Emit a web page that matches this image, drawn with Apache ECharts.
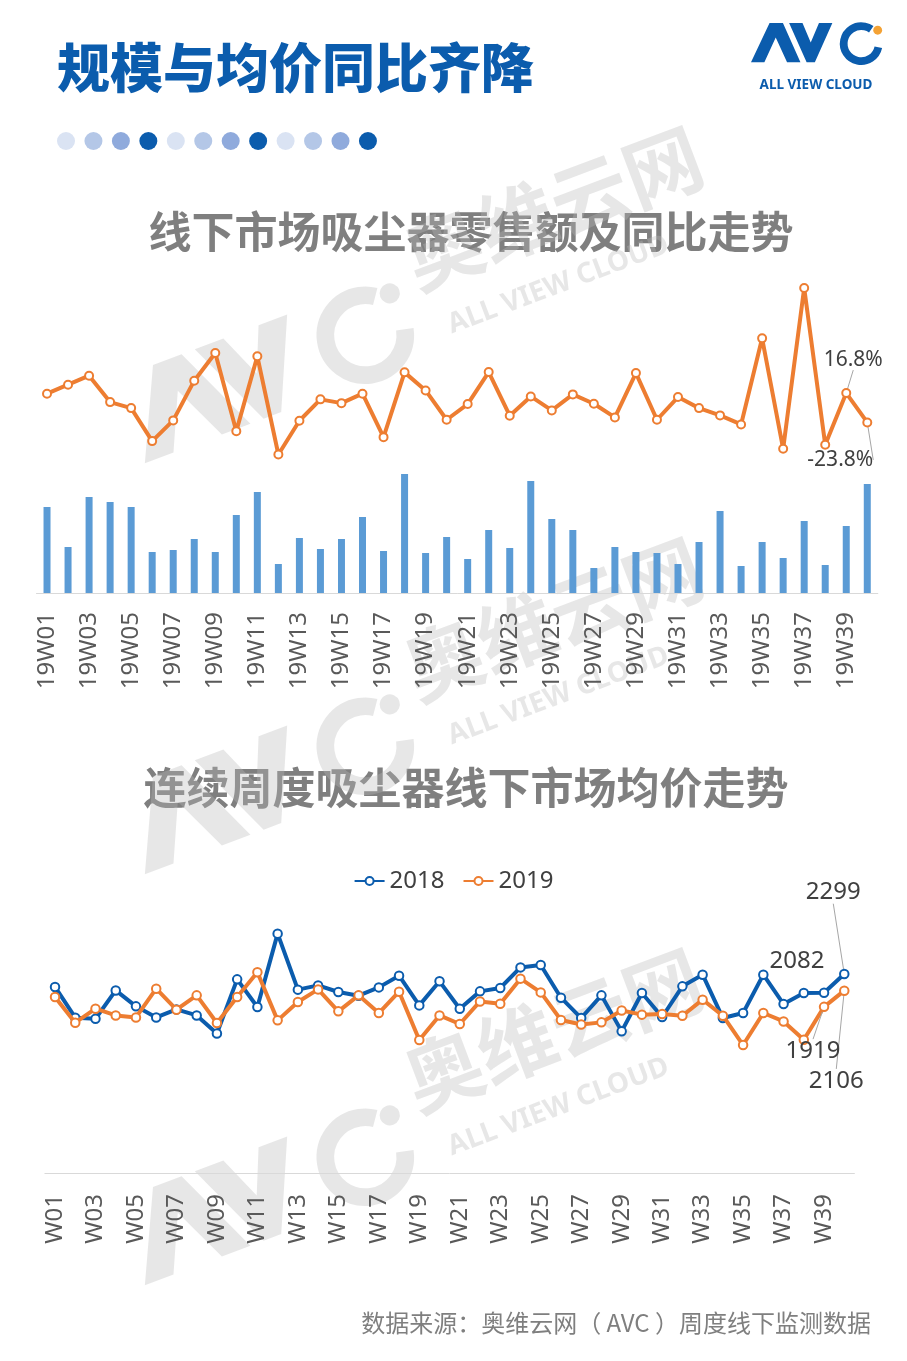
<!DOCTYPE html>
<html>
<head>
<meta charset="utf-8">
<script src="https://cdn.jsdelivr.net/npm/echarts@6/dist/echarts.min.js"></script>
<style>
html,body{margin:0;padding:0;background:#fff;}
#c{width:907px;height:1361px;}
</style>
</head>
<body>
<div id="c"></div>
<script>
// ---------------- DATA ----------------
var weekCodes = ['W01','W02','W03','W04','W05','W06','W07','W08','W09','W10',
  'W11','W12','W13','W14','W15','W16','W17','W18','W19','W20',
  'W21','W22','W23','W24','W25','W26','W27','W28','W29','W30',
  'W31','W32','W33','W34','W35','W36','W37','W38','W39','W40'];
var weeks19 = ['19W01','19W02','19W03','19W04','19W05','19W06','19W07','19W08','19W09','19W10',
  '19W11','19W12','19W13','19W14','19W15','19W16','19W17','19W18','19W19','19W20',
  '19W21','19W22','19W23','19W24','19W25','19W26','19W27','19W28','19W29','19W30',
  '19W31','19W32','19W33','19W34','19W35','19W36','19W37','19W38','19W39','19W40'];
// retail sales (relative scale)
var salesValue = [86,46,96,91,86,41,43,54,41,78,101,29,55,44,54,76,42,119,40,56,
  34,63,45,112,74,63,25,46,41,40,29,51,82,27,51,35,72,28,67,109];
// YoY growth of retail sales (%)
var salesYoY = [16.0,28.4,40.9,4.3,-4.0,-49.7,-21.0,34.0,72.2,-35.9,
  67.7,-68.2,-21.5,8.1,2.9,16.0,-44.2,45.5,20.5,-20.1,
  1.6,45.9,-14.5,12.2,-7.2,15.0,2.1,-16.9,44.5,-20.1,
  11.3,-4.0,-14.1,-26.6,92.6,-60.3,162.3,-54.7,16.8,-23.8];
// weekly average price
var price2018 = [2149,1794,1782,2109,1925,1797,1890,1820,1612,2237,
  1918,2765,2118,2167,2091,2048,2144,2279,1936,2214,
  1898,2098,2137,2375,2403,2025,1790,2052,1636,2079,
  1802,2156,2291,1790,1848,2291,1952,2079,2082,2299];
var price2019 = [2033,1736,1898,1820,1797,2129,1886,2052,1733,2033,
  2318,1763,1975,2121,1867,2052,1848,2094,1536,1820,
  1721,1982,1956,2245,2086,1767,1716,1740,1878,1829,
  1837,1817,2002,1817,1478,1848,1751,1540,1919,2106];
var seriesNames = ['2018','2019'];
var titleMain = '规模与均价同比齐降';
var titleTop = '线下市场吸尘器零售额及同比走势';
var titleBottom = '连续周度吸尘器线下市场均价走势';
var sourceText = '数据来源：奥维云网（ AVC ）周度线下监测数据';

// ---------------- STYLE ----------------
var ORANGE = '#ED7D31', BLUE = '#0B5CAD', BAR = '#5B9BD5';
var TXT = '#404040';
var FONT = '"Noto Sans", "Noto Sans CJK SC", sans-serif';
var CJK = '"Noto Sans CJK SC", sans-serif';

// label placement (style only): index -> [position, dx, dy, showLine]
var yoyLabels = {38:['top',7,-13,true], 39:['bottom',-27,17,true]};
var p18Labels = {38:['top',-27,-9,false], 39:['top',-11,-60,true]};
var p19Labels = {38:['bottom',-11,22,true], 39:['bottom',-8,68,true]};

function withLabels(arr, cfg, fmt){
  return arr.map(function(v,i){
    var c = cfg[i];
    if(!c) return v;
    return {value:v,
      label:{show:true,position:c[0],formatter:fmt,color:TXT,fontSize:fmt?21:24,fontFamily:FONT},
      labelLine:{show:c[3],lineStyle:{color:'#A6A6A6',width:1}}};
  });
}
function layoutFn(cfg){
  return function(p){
    var c = cfg[p.dataIndex];
    if(!c) return {};
    return {dx:c[1],dy:c[2]};
  };
}

// logo shapes (decorative)
function logoChildren(ox, oy, s, fillMain, fillDot){
  function P(pts){return pts.map(function(q){return [ox+q[0]*s, oy+q[1]*s];});}
  return [
    {type:'polygon',shape:{points:P([[0,38],[18,0],[31,0],[48,38],[35,38],[24,14],[13,38]])},style:{fill:fillMain}},
    {type:'polygon',shape:{points:P([[37,0],[50,0],[58,19],[66,0],[79,0],[62,38],[54,38]])},style:{fill:fillMain}},
    {type:'arc',shape:{cx:ox+107*s,cy:oy+20*s,r:17*s,startAngle:12*Math.PI/180,endAngle:305*Math.PI/180,clockwise:true},
      style:{stroke:fillMain,lineWidth:7.5*s,fill:null}},
    {type:'circle',shape:{cx:ox+123*s,cy:oy+7*s,r:4.3*s},style:{fill:fillDot}}
  ];
}

function watermark(cx, cy){
  var wm = 'rgba(185,185,185,0.35)';
  var kids = logoChildren(-150, -46, 2.35, wm, wm);
  kids.push({type:'text',x:322,y:-52,style:{text:'奥维云网',fill:wm,font:'bold 78px '+CJK,align:'center',verticalAlign:'middle'}});
  kids.push({type:'text',x:300,y:22,style:{text:'ALL VIEW CLOUD',fill:wm,font:'bold 28px '+FONT,align:'center',verticalAlign:'middle'}});
  return {type:'group',x:cx,y:cy,rotation:0.36,z:100,silent:true,children:kids};
}

var dotColors = ['#DAE3F3','#B4C7E7','#8FAADC','#0B5CAD'];
var graphics = [];
graphics.push({type:'text',x:57,y:68,style:{text:titleMain,fill:'#0B5CAD',font:'900 53px '+CJK,verticalAlign:'middle'}});
for(var i=0;i<12;i++){
  graphics.push({type:'circle',shape:{cx:66+i*27.45,cy:141,r:9},style:{fill:dotColors[i%4]}});
}
graphics.push({type:'group',children:logoChildren(751,23,1.03,'#0B5CAD','#F4A234')});
graphics.push({type:'text',x:816,y:85,style:{text:'ALL VIEW CLOUD',fill:'#0B5CAD',font:'bold 13.5px '+FONT,align:'center',verticalAlign:'middle'}});
graphics.push({type:'text',x:471,y:232,style:{text:titleTop,fill:'#7F7F7F',font:'bold 43px '+CJK,align:'center',verticalAlign:'middle'}});
graphics.push({type:'text',x:466,y:788,style:{text:titleBottom,fill:'#7F7F7F',font:'bold 43px '+CJK,align:'center',verticalAlign:'middle'}});
graphics.push({type:'text',x:871,y:1323,style:{text:sourceText,fill:'#7F7F7F',font:'24px '+CJK,align:'right',verticalAlign:'middle'}});
graphics.push(watermark(270,370));
graphics.push(watermark(270,781));
graphics.push(watermark(270,1192));

var chart = echarts.init(document.getElementById('c'));
chart.setOption({
  backgroundColor:'#fff',
  animation:false,
  graphic:graphics,
  legend:{
    data:seriesNames, top:864, left:'center', itemWidth:30, itemHeight:10, itemGap:18,
    textStyle:{color:TXT,fontSize:24,fontFamily:FONT}
  },
  grid:[
    {left:36.5, right:29.2, top:268, height:325},
    {left:44.9, right:52.6, top:870, height:303}
  ],
  xAxis:[
    {type:'category', gridIndex:0, data:weeks19, boundaryGap:true,
      axisLine:{onZero:false, lineStyle:{color:'#D9D9D9',width:1}}, axisTick:{show:false},
      axisLabel:{interval:1, rotate:90, margin:19, color:'#595959', fontSize:24, fontFamily:FONT}},
    {type:'category', gridIndex:1, data:weekCodes, boundaryGap:true,
      axisLine:{onZero:false, lineStyle:{color:'#D9D9D9',width:1}}, axisTick:{show:false},
      axisLabel:{interval:1, rotate:90, margin:21, color:'#595959', fontSize:24, fontFamily:FONT}}
  ],
  yAxis:[
    {type:'value', gridIndex:0, min:-260, max:190, show:false, splitLine:{show:false}},
    {type:'value', gridIndex:0, min:0, max:325, show:false, splitLine:{show:false}},
    {type:'value', gridIndex:1, min:0, max:3500, show:false, splitLine:{show:false}}
  ],
  series:[
    {name:'零售额', type:'bar', xAxisIndex:0, yAxisIndex:1, data:salesValue, barWidth:7,
      itemStyle:{color:BAR}, z:1},
    {name:'同比', type:'line', xAxisIndex:0, yAxisIndex:0,
      data:withLabels(salesYoY, yoyLabels, '{c}%'),
      symbol:'emptyCircle', symbolSize:8, showAllSymbol:true,
      lineStyle:{color:ORANGE,width:4}, itemStyle:{color:ORANGE,borderWidth:3},
      label:{show:false}, labelLayout:layoutFn(yoyLabels), z:3},
    {name:'2018', type:'line', xAxisIndex:1, yAxisIndex:2,
      data:withLabels(price2018, p18Labels, null),
      symbol:'emptyCircle', symbolSize:8.5, showAllSymbol:true,
      lineStyle:{color:BLUE,width:4}, itemStyle:{color:BLUE,borderWidth:3.5},
      label:{show:false}, labelLayout:layoutFn(p18Labels), z:3},
    {name:'2019', type:'line', xAxisIndex:1, yAxisIndex:2,
      data:withLabels(price2019, p19Labels, null),
      symbol:'emptyCircle', symbolSize:8.5, showAllSymbol:true,
      lineStyle:{color:ORANGE,width:4}, itemStyle:{color:ORANGE,borderWidth:3.5},
      label:{show:false}, labelLayout:layoutFn(p19Labels), z:4}
  ]
});
</script>
</body>
</html>
